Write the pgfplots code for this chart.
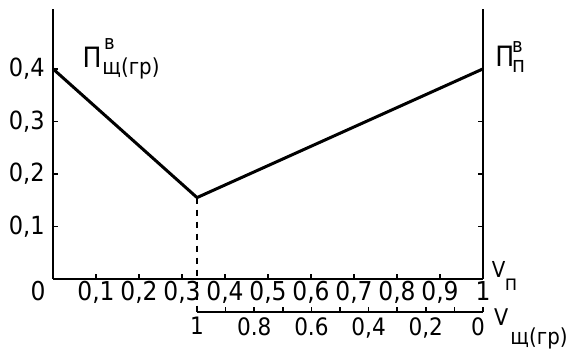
\documentclass[border=0pt]{standalone}
\usepackage{pgfplots}
\pgfplotsset{compat=1.18}
\usepackage{fontspec}
\setmainfont{DejaVu Sans Condensed}
\begin{document}
\begin{tikzpicture}
\begin{axis}[
  scale only axis, width=215pt, height=135pt,
  xmin=0, xmax=1, ymin=0, ymax=0.514,
  axis lines=left,
  axis line style={-, line width=1pt},
  clip=false,
  tick align=inside,
  major tick length=2.5pt,
  tick style={line width=0.8pt, black},
  xtick={0.1,0.2,0.3,0.4,0.5,0.6,0.7,0.8,0.9,1},
  xticklabels={{0,1},{0,2},{0,3},{0,4},{0,5},{0,6},{0,7},{0,8},{0,9},1},
  ytick={0.1,0.2,0.3,0.4},
  yticklabels={{0,1},{0,2},{0,3},{0,4}},
  xticklabel style={inner sep=1pt, font=\fontsize{13}{15}\selectfont},
  yticklabel style={inner sep=2pt, xshift=-2pt, font=\fontsize{12.5}{14}\selectfont},
]
\addplot[black, line width=1.5pt] coordinates {(0,0.4) (0.335,0.155) (1,0.4)};
\coordinate (O) at (axis cs:0,0);
\draw[dashed, dash pattern=on 3pt off 3pt, line width=1pt] (axis cs:0.335,0.155) -- (axis cs:0.335,-0.063);
% right axis
\draw[line width=1pt] (axis cs:1,0) -- (axis cs:1,0.514);
\pgfplotsinvokeforeach{0.1,0.2,0.3}{\draw[line width=0.8pt] (axis cs:1,#1) -- ++(-2.5pt,0);}
% secondary axis
\draw[line width=1pt] (axis cs:0.335,-0.063) -- (axis cs:1,-0.063);
\pgfplotsinvokeforeach{0.335,0.4015,0.468,0.5345,0.601,0.6675,0.734,0.8005,0.867,0.9335,1}{\draw[line width=0.8pt] (axis cs:#1,-0.063) -- ++(0,2.5pt);}
\node[anchor=north, inner sep=1pt, font=\fontsize{12}{14}\selectfont] at ([yshift=-1.5pt]axis cs:0.335,-0.063) {1};
\node[anchor=north, inner sep=1pt, font=\fontsize{12}{14}\selectfont] at ([yshift=-1.5pt]axis cs:0.468,-0.063) {0.8};
\node[anchor=north, inner sep=1pt, font=\fontsize{12}{14}\selectfont] at ([yshift=-1.5pt]axis cs:0.601,-0.063) {0.6};
\node[anchor=north, inner sep=1pt, font=\fontsize{12}{14}\selectfont] at ([yshift=-1.5pt]axis cs:0.734,-0.063) {0,4};
\node[anchor=north, inner sep=1pt, font=\fontsize{12}{14}\selectfont] at ([yshift=-1.5pt]axis cs:0.867,-0.063) {0,2};
\node[anchor=north, inner sep=1pt, font=\fontsize{12}{14}\selectfont] at ([xshift=-2.5pt,yshift=-1.5pt]axis cs:1,-0.063) {0};
% origin label
\node[anchor=north, inner sep=1pt, font=\fontsize{13}{15}\selectfont] at ([xshift=-7.5pt]axis cs:0,0) {0};
% curve labels
\node[anchor=base west, inner sep=0pt, font=\fontsize{14}{16}\selectfont] at (axis cs:0.068,0.402) {П};
\node[anchor=base west, inner sep=0pt, font=\fontsize{10}{12}\selectfont] at (axis cs:0.118,0.436) {в};
\node[anchor=base west, inner sep=0pt, font=\fontsize{11}{13}\selectfont] at (axis cs:0.114,0.389) {щ(гр)};
\node[anchor=base west, inner sep=0pt, font=\fontsize{14}{16}\selectfont] at (axis cs:1.028,0.404) {П};
\node[anchor=base west, inner sep=0pt, font=\fontsize{10}{12}\selectfont] at (axis cs:1.067,0.432) {в};
\node[anchor=base west, inner sep=0pt, font=\fontsize{11}{13}\selectfont] at (axis cs:1.067,0.394) {п};
% axis name labels
\node[anchor=base west, inner sep=0pt, font=\fontsize{11}{13}\selectfont] at (axis cs:1.02,0.002) {V};
\node[anchor=base west, inner sep=0pt, font=\fontsize{10.5}{12}\selectfont] at (axis cs:1.05,-0.021) {п};
\node[anchor=base west, inner sep=0pt, font=\fontsize{11.5}{13}\selectfont] at (axis cs:1.025,-0.088) {V};
\node[anchor=base west, inner sep=0pt, font=\fontsize{11}{13}\selectfont] at (axis cs:1.063,-0.124) {щ(гр)};
\end{axis}
\pgfresetboundingbox
\path (O) +(-26.5pt,-35pt) rectangle +(258.5pt,139.5pt);
\end{tikzpicture}
\end{document}
